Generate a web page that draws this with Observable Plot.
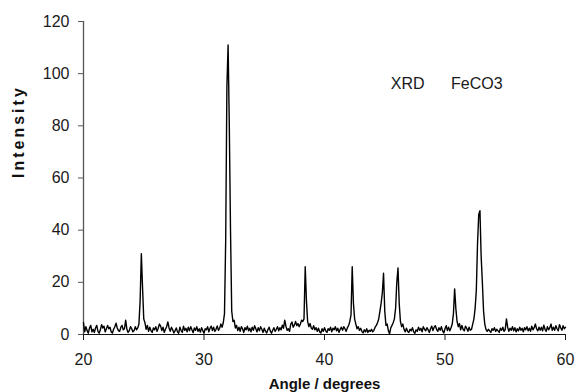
<!DOCTYPE html>
<html>
<head>
<meta charset="utf-8">
<script src="https://cdn.jsdelivr.net/npm/d3@7"></script>
<script src="https://cdn.jsdelivr.net/npm/@observablehq/plot@0.6"></script>
<style>
  html, body { margin: 0; padding: 0; background: #fff; }
  #chart svg { display: block; }
</style>
</head>
<body>
<div id="chart"></div>
<script>
// Sampling grid of the diffractogram (degrees 2θ)
const angleStart = 20;
const angleStep = 0.1;

// Intensity, one row per degree (20.0 ... 60.0)
const intensity = [
  4.5, 1, 3, 1.5, 0.5, 2.5, 3.5, 1, 2, 0.8,
  2.5, 3.5, 1.2, 0.5, 1.8, 3.8, 2.5, 3.2, 1, 2.2,
  3.5, 2.2, 2.8, 1, 0.6, 2, 3, 4.3, 2.5, 1.5,
  1.2, 2.8, 3.5, 1.8, 2.2, 5.5, 2, 0.8, 1.5, 3,
  2.2, 1, 1.5, 3, 1.8, 2.5, 4, 13, 31, 18,
  6, 4.5, 2, 3.5, 1.2, 2.8, 1.5, 0.8, 2.5, 1.8,
  3, 1.2, 2.4, 4, 3.2, 1.5, 2.8, 0.8, 2, 3,
  4.8, 2.5, 1.2, 2.8, 1.8, 0.6, 1.5, 2.5, 1, 0.5,
  2.8, 1.5, 0.8, 3.2, 1.6, 2.4, 1, 2.8, 1.4, 3,
  1.8, 0.7, 2.5, 1.6, 3, 1.2, 2.2, 0.9, 2.6, 1.5,
  0.5, 2.2, 1.8, 3, 1, 2.4, 3.2, 1.5, 2.8, 1.2,
  2, 3.3, 1.6, 2.4, 4, 2.8, 4.5, 8, 36, 95,
  111, 80, 40, 9, 5, 5.5, 2.5, 3.5, 1.5, 2.8,
  1.2, 3, 2.2, 0.8, 2.6, 1.8, 3.2, 1.4, 2.4, 1,
  2.8, 1.6, 3.4, 2.2, 1, 2.6, 1.4, 3, 2, 0.8,
  2.4, 1.2, 0.6, 1.8, 2.8, 1.4, 0.5, 1.6, 2.6, 1.2,
  2, 3, 1.4, 2.6, 1.8, 3.6, 2.4, 5.5, 3.2, 1.6,
  2.2, 1.2, 4, 4.8, 2.8, 3.6, 5, 3.4, 4.2, 3,
  4, 5.5, 5, 6, 26, 13, 5, 3, 4.2, 2.5,
  2, 3.4, 1.8, 2.6, 1.2, 2.4, 1, 0.6, 2.2, 1.2,
  2.6, 1.4, 0.8, 2.2, 1.6, 2.8, 1, 2.4, 1.8, 3,
  1.4, 2.4, 0.8, 2, 2.8, 1.6, 3, 2.2, 1.2, 2.6,
  3.4, 5, 7.5, 26, 12, 6, 4, 2.2, 3, 1.6,
  2.4, 1.2, 0.6, 1.8, 1, 2.2, 0.8, 1.6, 1.2, 2,
  1, 1.6, 2.8, 3.5, 4.5, 6, 9, 12, 16, 23.5,
  9, 3.5, 4, 1.5, 0.2, 2.5, 3.5, 4.5, 6, 10,
  20, 25.5, 12, 5, 3, 4, 2, 1, 2.4, 1.2,
  0.8, 2, 1.4, 2.6, 1, 0.5, 1.8, 1.2, 2.8, 1.6,
  2.4, 1, 3, 2, 1.4, 2.6, 1.8, 0.8, 2.2, 3.2,
  1.5, 2.8, 3.4, 2, 1.2, 2.6, 1.6, 3, 1.4, 0.6,
  2.2, 3.4, 1.5, 2.8, 1.4, 2.6, 4, 8, 17.5, 10,
  5, 3, 4.2, 1.8, 3.5, 2, 1.4, 3.2, 2.4, 1.2,
  2.8, 1.6, 2, 4, 6, 10, 17, 35, 46, 47.5,
  30, 20, 9, 4, 2, 1.2, 2, 1.4, 0.8, 2.2,
  1.6, 2.6, 1.2, 2, 1.4, 0.8, 2.4, 1.6, 2.8, 1.2,
  2, 6, 2.8, 1.2, 2.4, 1.6, 3, 1.4, 2.6, 1,
  2.2, 1.4, 2.8, 1.6, 2.4, 1, 2.6, 1.8, 3, 1.4,
  2.4, 1.2, 3.2, 1.8, 2.6, 4, 2.2, 1.4, 2.8, 1.6,
  2.8, 1.4, 3.6, 2, 1.2, 3, 1.8, 2.6, 4, 1.6,
  2.8, 1.6, 3.4, 2.2, 1.4, 3.8, 2.6, 1.6, 3.4, 2.2,
  2.8
];

const xTicks = [20, 30, 40, 50, 60];
const yTicks = [0, 20, 40, 60, 80, 100, 120];
const xLabel = "Angle / degrees";
const yLabel = "Intensity";
const notes = [
  {angle: 45.5, value: 94.3, text: "XRD"},
  {angle: 50.5, value: 94.3, text: "FeCO3"}
];

const scan = intensity.map((v, i) => ({
  angle: +(angleStart + i * angleStep).toFixed(1),
  value: v
}));

const chart = Plot.plot({
  width: 576,
  height: 392,
  marginLeft: 83,
  marginRight: 11,
  marginTop: 21,
  marginBottom: 58,
  style: {
    fontFamily: "'Liberation Sans', Arial, sans-serif",
    fontSize: "16px",
    color: "#1a1a1a",
    background: "#ffffff"
  },
  x: {domain: [20, 60]},
  y: {domain: [0, 120]},
  marks: [
    Plot.axisY({ticks: yTicks, tickSize: 5, tickPadding: 9, label: null, stroke: "#555"}),
    Plot.axisX({ticks: xTicks, tickSize: 6, tickPadding: 13, label: null}),
    Plot.ruleX([20], {stroke: "#555", strokeWidth: 1.3}),
    Plot.ruleY([0], {stroke: "#111", strokeWidth: 1.2}),
    Plot.line(scan, {x: "angle", y: "value", stroke: "#000", strokeWidth: 1.4}),
    Plot.text(notes, {x: "angle", y: "value", text: "text", textAnchor: "start", lineAnchor: "bottom", fontSize: 16, fill: "#1a1a1a"}),
    Plot.text([xLabel], {frameAnchor: "bottom", dy: 54, lineAnchor: "bottom", fontWeight: "bold", fontSize: 15, fill: "#111"}),
    Plot.text([yLabel], {frameAnchor: "left", dx: -65, rotate: -90, fontWeight: "bold", fontSize: 16, fill: "#111"})
  ]
});

d3.select(chart).selectAll("text")
  .filter(function() { return this.textContent === yLabel; })
  .style("letter-spacing", "3px");

document.getElementById("chart").appendChild(chart);
</script>
</body>
</html>
